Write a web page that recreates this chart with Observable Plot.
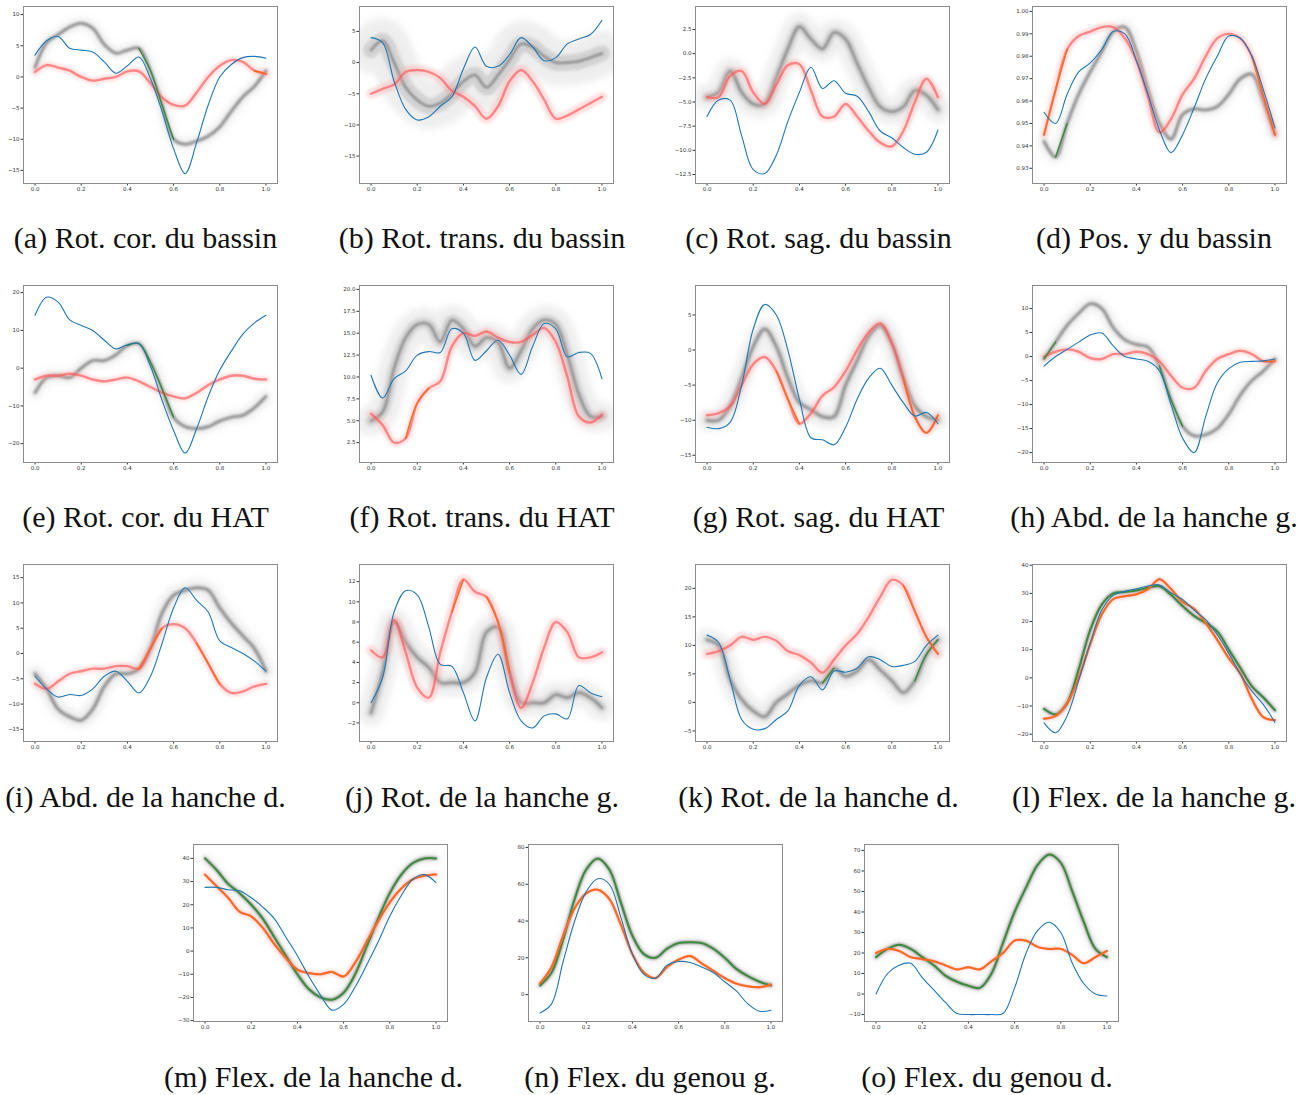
<!DOCTYPE html>
<html><head><meta charset="utf-8">
<script src="https://cdn.jsdelivr.net/npm/d3@7"></script>
<script src="https://cdn.jsdelivr.net/npm/@observablehq/plot@0.6"></script>
<style>
body{margin:0;background:#fff;}
#root{position:relative;width:1299px;height:1095px;overflow:hidden;background:#fff;}
.panel{position:absolute;}
.cap{position:absolute;font-family:"Liberation Serif",serif;font-size:30px;color:#111;white-space:nowrap;transform:translate(-50%,-50%);line-height:1;}
</style></head><body><div id="root"></div>
<script>
// sample positions (normalised gait cycle)
const xs = [0,0.05,0.1,0.15,0.2,0.25,0.3,0.35,0.4,0.45,0.5,0.55,0.6,0.65,0.7,0.75,0.8,0.85,0.9,0.95,1.0];
const xTicks = [0,0.2,0.4,0.6,0.8,1.0];

const captions = ["(a) Rot. cor. du bassin","(b) Rot. trans. du bassin","(c) Rot. sag. du bassin","(d) Pos. y du bassin",
  "(e) Rot. cor. du HAT","(f) Rot. trans. du HAT","(g) Rot. sag. du HAT","(h) Abd. de la hanche g.",
  "(i) Abd. de la hanche d.","(j) Rot. de la hanche g.","(k) Rot. de la hanche d.","(l) Flex. de la hanche g.",
  "(m) Flex. de la hanche d.","(n) Flex. du genou g.","(o) Flex. du genou d."];

// (a)
const aBlue = [3.5,5.8,6.5,4.6,4.3,4.0,2.4,0.6,1.8,3.2,-0.3,-5.5,-11.5,-15.5,-10.5,-4.5,0,2,3.1,3.3,3.0];
const aGray = [1.5,5.5,6.8,8,8.6,7.8,5.2,3.8,4.3,4.6,1.0,-4.5,-10,-10.8,-10.3,-9.5,-8,-5.5,-3.2,-1.5,1];
const aRed  = [0.8,1.9,1.5,1.0,0,-0.6,-0.3,0,0.9,0.9,-1.0,-3.3,-4.5,-4.6,-2.5,0,1.8,2.7,2.4,1.0,0.5];
const aTicks = [-15,-10,-5,0,5,10];
// (b)
const bBlue = [4,3.2,-3,-7.5,-9.2,-8.7,-7,-5.5,-1,2.5,-0.6,-0.6,1.3,4,2.5,0.3,0.8,3,3.8,4.5,6.8];
const bGray = [2,3.5,0,-4,-6,-7,-6.5,-5,-3,-2,-4,-2,0.5,3,2.5,1,0,0,0.2,0.8,1.5];
const bRed  = [-5,-4.2,-3.5,-1.5,-1.2,-1.5,-2.5,-4.5,-5.5,-7,-9,-7,-3,-1.2,-3,-6,-9,-8.5,-7.5,-6.5,-5.5];
const bTicks = [-15,-10,-5,0,5];
// (c)
const cBlue = [-6.5,-4.8,-4.8,-8.5,-12,-12.4,-10.5,-7,-4,-1.4,-3.6,-2.8,-4.1,-4.4,-6,-8,-8.7,-9.7,-10.4,-10.2,-7.9];
const cGray = [-4.5,-4.0,-1.8,-4,-5.2,-5.2,-2.5,0.5,2.8,1.5,0.5,2.2,1.5,-1,-3.5,-5.5,-6,-5.5,-3.8,-4.3,-5.8];
const cRed  = [-4.5,-4.5,-2.3,-1.8,-4,-5.2,-3.2,-1.2,-1.1,-3.8,-6.5,-6.5,-5.2,-6.5,-8,-9.2,-9.6,-8,-5,-2.6,-4.5];
const cTicks = [-12.5,-10,-7.5,-5,-2.5,0,2.5];
// (d)
const dBlue = [0.955,0.950,0.963,0.973,0.977,0.983,0.991,0.990,0.978,0.963,0.947,0.937,0.945,0.957,0.970,0.980,0.989,0.988,0.980,0.965,0.948];
const dGray = [0.942,0.935,0.950,0.963,0.973,0.982,0.991,0.993,0.982,0.965,0.950,0.943,0.954,0.9565,0.956,0.9575,0.963,0.970,0.972,0.960,0.945];
const dRed  = [0.945,0.965,0.983,0.989,0.991,0.993,0.993,0.988,0.978,0.962,0.946,0.952,0.963,0.970,0.980,0.988,0.990,0.988,0.980,0.962,0.945];
const dTicks = [0.93,0.94,0.95,0.96,0.97,0.98,0.99,1.00];
// (e)
const eBlue = [14,18.8,17.5,12.8,11.3,10,7.4,5.1,6.2,6.5,0.5,-8.5,-16.5,-22.5,-16,-7.5,-0.5,4.5,9,12,14];
const eGray = [-6.5,-2.5,-2,-2.5,0,2,2,3.5,6,6.5,1.5,-5.5,-13,-15.5,-16,-15.5,-14,-13,-12.5,-10.5,-7.5];
const eRed  = [-3,-2,-2,-1.5,-2,-3,-3.5,-3,-2.5,-3.5,-5,-6.5,-7.5,-8,-6.5,-4.5,-3,-2,-2,-2.8,-3];
const eTicks = [-20,-10,0,10,20];
// (f)
const fBlue = [10.2,7.6,9.8,10.7,12.5,12.9,12.8,15.5,15,11.9,13,14.2,12.5,10.3,13.5,16.1,15.5,12.3,12.8,12.7,9.8];
const fGray = [5,6,11,14.5,16,16,14,16.5,15.5,13.5,14.5,14,11,13,15.5,16.5,16,12.5,8,5.5,5.5];
const fRed  = [5.8,4.5,2.5,3,7,8.7,9.5,13.5,15,14.7,15.2,14.5,14,14,14.8,15.6,14,10,5.5,4.8,5.7];
const fTicks = [2.5,5,7.5,10,12.5,15,17.5,20];
// (g)
const gBlue = [-11,-11.2,-10.3,-5,3,6.5,5,0,-7,-12.5,-12.8,-13.5,-11,-7,-4,-2.6,-5,-7.5,-9.4,-8.9,-10.5];
const gGray = [-10,-10,-8,-4,0.5,3,0.5,-4,-7.5,-8.5,-9.5,-9.5,-5,-1.5,2,3.5,1,-4,-8,-9.5,-10];
const gRed  = [-9.3,-9,-8,-5,-2,-1,-3,-7,-10.5,-9,-6.5,-5.3,-3,0,2.5,3.8,1,-4,-9.5,-11.8,-9.3];
const gTicks = [-15,-10,-5,0,5];
// (h)
const hBlue = [-2,0,1.5,3,4.5,4.9,2.2,0,-0.5,-1,-3,-10,-17,-20,-12.5,-5.5,-2.5,-1.2,-1,-0.9,-0.5];
const hGray = [-0.5,3,6.5,9,11,10,6,3.5,2.5,2,-2,-9,-14.5,-16.5,-16.3,-15,-12,-8,-5,-3,-0.5];
const hRed  = [0,1,1.5,1,-0.3,-0.5,0.5,0.5,1,0.5,-1,-4,-6.5,-6.5,-3,-0.5,0.5,1.2,0.5,-1,-1];
const hTicks = [-20,-15,-10,-5,0,5,10];
// (i)
const iBlue = [-4.5,-7,-8.6,-8.1,-8.3,-7,-4.5,-3.5,-5.5,-7.8,-4.5,2,9,13,10.5,8.2,2.5,1.2,0,-1.5,-3.5];
const iGray = [-4,-7,-11,-12.5,-13.2,-11,-6.5,-4,-4,-3,1,8,11.5,12.5,13,12.5,9,6,3.5,1,-3.5];
const iRed  = [-6,-7,-5.5,-4,-3.5,-3,-3,-2.5,-2.5,-3,1,5,5.8,5,2,-2,-6,-7.8,-7.5,-6.5,-6];
const iTicks = [-15,-10,-5,0,5,10,15];
// (j)
const jBlue = [0,2.5,9,11.1,10.7,7.5,3.8,3.6,1,-1.8,2.5,4.8,1,-1.8,-2.5,-1.3,-1.1,-1.6,1.7,1,0.6];
const jGray = [-1,3,8,6,4.5,3.5,2,2,2,3,7,7.5,3,0,0,0,0.8,0.5,1,0.5,-0.5];
const jRed  = [5.2,4.5,8.2,5,1.5,0.5,5,9,12.2,11,10.5,8,3,-0.5,2,5.5,8,7,4.5,4.5,5];
const jTicks = [-2,0,2,4,6,8,10,12];
// (k)
const kBlue = [11.8,10.5,4,-3,-4.7,-4.6,-3,-1.5,3,4.5,2.2,5.5,5.3,6,8,7.5,6.3,6.5,7.2,10,11.8];
const kGray = [11,10,4,0.5,-1.5,-2.5,0,1.5,3,3.8,3.4,6,4.6,5.5,7.5,5.7,3.8,1.7,3.8,8.4,11];
const kRed  = [8.5,9,10,11.5,11,11.5,10.8,9,8.3,7,5.2,7.5,10,12,15,18.5,21.5,20.5,16,11.5,8.5];
const kTicks = [-5,0,5,10,15,20];
// (l)
const lBlue = [-16,-19.5,-13.5,-1,12.4,24,29.3,30.7,31.6,32.6,33,30.2,27.8,24,20.7,15.3,8.7,1.3,-4.7,-9.5,-15.8];
const lGray = [-11,-13,-9,3,17,26,30,30.5,31,32,32.5,29.5,25.5,22,19.5,16.5,10,3.5,-3,-7,-11.5];
const lRed  = [-14.5,-13.5,-9,0,12,22.5,28,29,29.7,31.5,35,31.5,27,24.5,19.5,13.5,7,1.5,-7.5,-14,-15];
const lTicks = [-20,-10,0,10,20,30,40];
// (m)
const mBlue = [27.5,27.5,26.5,26,23,19,14,6,-2,-11,-19,-25.5,-23,-15.5,-6,4,15,24,31,33,29.5];
const mGray = [40,35,29,25,20,14,6,-2,-10,-16.5,-20,-21,-18,-10,2,14,25,33,38,40,40];
const mRed  = [33,28,23,17,15,10,3,-3,-8,-9.5,-10,-9,-11,-5,4,13,21,27,31,32.5,33];
const mTicks = [-30,-20,-10,0,10,20,30,40];
// (n)
const nBlue = [-10,-5,18,40,56,63,60,42,22,11,9,16,18,17.5,15,12,7,2,-5,-9,-8.5];
const nGray = [5,12,30,52,68,74,68,50,32,22,20,25,28,28.5,28,25,20,14,10,7,5];
const nRed  = [6,15,32,47,55,57,52,38,22,12,9,15,19,21,17,13,9,6,4.5,4,5.5];
const nTicks = [0,20,40,60,80];
// (o)
const oBlue = [0,10,14,15,8,2,-4,-9.5,-10,-10,-10,-9.5,3,20,31,35,30,15,5,0,-1];
const oGray = [18,22,24,22,18,14,9,6,4,3,10,25,40,52,63,68,64,50,35,22,18];
const oRed  = [20,22,21,18,17,16,14,12,13,12,16,20,26,26,23,22,22,19,15,18,21];
const oTicks = [-10,0,10,20,30,40,50,60,70];

// highlighted stretches (x ranges) of the green (gray group) and orange (red group) curves
const greenRanges = {a:[[0.45,0.6]],b:[],c:[],d:[[0.05,0.1]],e:[[0.4,0.6]],f:[],g:[],h:[[0,0.05],[0.5,0.6]],i:[],j:[],k:[[0.5,0.55],[0.9,1]],l:[[0,1]],m:[[0,1]],n:[[0,1]],o:[[0,1]]};
const orangeRanges = {a:[[0.95,1]],b:[],c:[],d:[[0,0.1],[0.9,1]],e:[],f:[[0.15,0.25]],g:[[0.3,0.4],[0.85,1]],h:[[0.95,1]],i:[[0.45,0.55],[0.7,0.8]],j:[[0.35,0.4],[0.5,0.6]],k:[[0.85,1]],l:[[0,1]],m:[[0,1]],n:[[0,1]],o:[[0,1]]};

const panels = [
 {id:"a",blue:aBlue,gray:aGray,red:aRed,yt:aTicks,yd:[-17.1,11.3],fmt:"d"},
 {id:"b",blue:bBlue,gray:bGray,red:bRed,yt:bTicks,yd:[-19.4,9.0],fmt:"d"},
 {id:"c",blue:cBlue,gray:cGray,red:cRed,yt:cTicks,yd:[-13.43,4.88],fmt:".1f"},
 {id:"d",blue:dBlue,gray:dGray,red:dRed,yt:dTicks,yd:[0.9232,1.0022],fmt:".2f"},
 {id:"e",blue:eBlue,gray:eGray,red:eRed,yt:eTicks,yd:[-25,21.9],fmt:"d"},
 {id:"f",blue:fBlue,gray:fGray,red:fRed,yt:fTicks,yd:[0.23,20.45],fmt:".1f"},
 {id:"g",blue:gBlue,gray:gGray,red:gRed,yt:gTicks,yd:[-16.03,9.2],fmt:"d"},
 {id:"h",blue:hBlue,gray:hGray,red:hRed,yt:hTicks,yd:[-22.07,14.8],fmt:"d"},
 {id:"i",blue:iBlue,gray:iGray,red:iRed,yt:iTicks,yd:[-17.4,17.6],fmt:"d"},
 {id:"j",blue:jBlue,gray:jGray,red:jRed,yt:jTicks,yd:[-3.84,13.7],fmt:"d"},
 {id:"k",blue:kBlue,gray:kGray,red:kRed,yt:kTicks,yd:[-6.86,24.19],fmt:"d"},
 {id:"l",blue:lBlue,gray:lGray,red:lRed,yt:lTicks,yd:[-22.6,40.25],fmt:"d"},
 {id:"m",blue:mBlue,gray:mGray,red:mRed,yt:mTicks,yd:[-30.4,46],fmt:"d"},
 {id:"n",blue:nBlue,gray:nGray,red:nRed,yt:nTicks,yd:[-14.6,81.6],fmt:"d"},
 {id:"o",blue:oBlue,gray:oGray,red:oRed,yt:oTicks,yd:[-13.4,72.9],fmt:"d"}
];

// layout / style
const boxLeft = [22.7,359.3,695,1031.7, 22.7,359.3,695,1031.7, 22.7,359.3,695,1031.7, 193,528,864];
const boxTop  = [6,6,6,6, 285,285,285,285, 564,564,564,564, 844,844,844];
const capX = [145.5,482,818.5,1154, 145.5,482,818.5,1154, 145.5,482,818.5,1154, 313.5,650,987];
const capY = [238,238,238,238, 517,517,517,517, 797,797,797,797, 1077,1077,1077];
const grayHalo = {a:11,b:46,c:26,d:12,e:12,f:30,g:20,h:12,i:16,j:26,k:22,l:8,m:8,n:7,o:8};
const redHalo  = {a:7,b:10,c:8,d:8,e:6,f:8,g:7,h:7,i:7,j:10,k:10,l:5,m:6,n:4,o:4};
const full = {l:1,m:1,n:1,o:1};
const blurs = {grayhalo:3.5, graymid:1.6, graycore:0.8, redhalo:1.6, redcore:0.6};

const ML=22, MR=3, MT=3, MB=14, BW=254, BH=177;
const root = document.getElementById("root");
const NS = "http://www.w3.org/2000/svg";

panels.forEach((p,idx)=>{
  const rows = xs.map((x,i)=>({x, blue:p.blue[i], gray:p.gray[i], red:p.red[i]}));
  const seg = (ranges)=> ranges.flatMap((r,k)=>rows.filter(d=>d.x>=r[0]-1e-9 && d.x<=r[1]+1e-9).map(d=>({...d,seg:k})));
  const cr = "catmull-rom";
  const isFull = !!full[p.id];
  const marks = [
    Plot.line(rows,{x:"x",y:"gray",stroke:"#a8a8a8",strokeWidth:grayHalo[p.id],strokeOpacity:0.2,curve:cr,ariaDescription:"grayhalo"}),
    Plot.line(rows,{x:"x",y:"gray",stroke:"#8a8a8a",strokeWidth:Math.max(4,grayHalo[p.id]*0.35),strokeOpacity:0.28,curve:cr,ariaDescription:"graymid"}),
    Plot.line(rows,{x:"x",y:"gray",stroke:"#555",strokeWidth:2.6,strokeOpacity:0.55,curve:cr,ariaDescription:"graycore"}),
    Plot.line(rows,{x:"x",y:"red",stroke:"#ff9a9a",strokeWidth:redHalo[p.id],strokeOpacity:0.32,curve:cr,ariaDescription:"redhalo"}),
    Plot.line(rows,{x:"x",y:"red",stroke:"#ff5252",strokeWidth:2.4,strokeOpacity:isFull?0.45:0.62,curve:cr,ariaDescription:"redcore"}),
    Plot.line(seg(greenRanges[p.id]),{x:"x",y:"gray",z:"seg",stroke:"#3d8b3d",strokeWidth:isFull?2:1.5,curve:cr}),
    Plot.line(seg(orangeRanges[p.id]),{x:"x",y:"red",z:"seg",stroke:"#ff6a1f",strokeWidth:isFull?2:1.5,curve:cr}),
    Plot.line(rows,{x:"x",y:"blue",stroke:"#1f77b4",strokeWidth:1.1,curve:cr}),
    Plot.frame({stroke:"#8c8c8c",strokeWidth:1})
  ];
  const W = ML+BW+MR, H = MT+BH+MB;
  const svg = Plot.plot({
    width: W, height: H,
    marginLeft: ML, marginRight: MR, marginTop: MT, marginBottom: MB,
    style: {fontSize:"5.5px", fontFamily:"DejaVu Sans", color:"#333", background:"transparent", overflow:"visible"},
    x: {domain:[-0.05,1.05], ticks:xTicks, tickFormat:d3.format(".1f"), tickSize:2.5, tickPadding:1.5, label:null},
    y: {domain:p.yd, ticks:p.yt, tickFormat:d3.format(p.fmt), tickSize:2.5, tickPadding:1.5, label:null},
    marks
  });
  // SVG blur filters and clipping to the frame for the dense bundles
  const defs = document.createElementNS(NS,"defs");
  const clip = document.createElementNS(NS,"clipPath");
  clip.setAttribute("id",`clip-${p.id}`);
  const cr2 = document.createElementNS(NS,"rect");
  cr2.setAttribute("x",ML); cr2.setAttribute("y",MT); cr2.setAttribute("width",BW); cr2.setAttribute("height",BH);
  clip.appendChild(cr2); defs.appendChild(clip);
  Object.entries(blurs).forEach(([k,v])=>{
    const f = document.createElementNS(NS,"filter");
    f.setAttribute("id",`f-${p.id}-${k}`);
    f.setAttribute("filterUnits","userSpaceOnUse");
    f.setAttribute("x",-20); f.setAttribute("y",-20); f.setAttribute("width",W+40); f.setAttribute("height",H+40);
    const gb = document.createElementNS(NS,"feGaussianBlur");
    gb.setAttribute("stdDeviation",v);
    f.appendChild(gb); defs.appendChild(f);
  });
  svg.insertBefore(defs, svg.firstChild);
  Object.keys(blurs).forEach(k=>{
    svg.querySelectorAll(`g[aria-description="${k}"]`).forEach(g=>{
      const wrap = document.createElementNS(NS,"g");
      wrap.setAttribute("clip-path",`url(#clip-${p.id})`);
      g.parentNode.insertBefore(wrap,g);
      wrap.appendChild(g);
      g.setAttribute("filter",`url(#f-${p.id}-${k})`);
    });
  });
  const div = document.createElement("div");
  div.className = "panel";
  div.style.left = (boxLeft[idx]-ML)+"px";
  div.style.top = (boxTop[idx]-MT)+"px";
  div.appendChild(svg);
  root.appendChild(div);

  const cap = document.createElement("div");
  cap.className = "cap";
  cap.style.left = capX[idx]+"px";
  cap.style.top = capY[idx]+"px";
  cap.textContent = captions[idx];
  root.appendChild(cap);
});
</script>
</body></html>
